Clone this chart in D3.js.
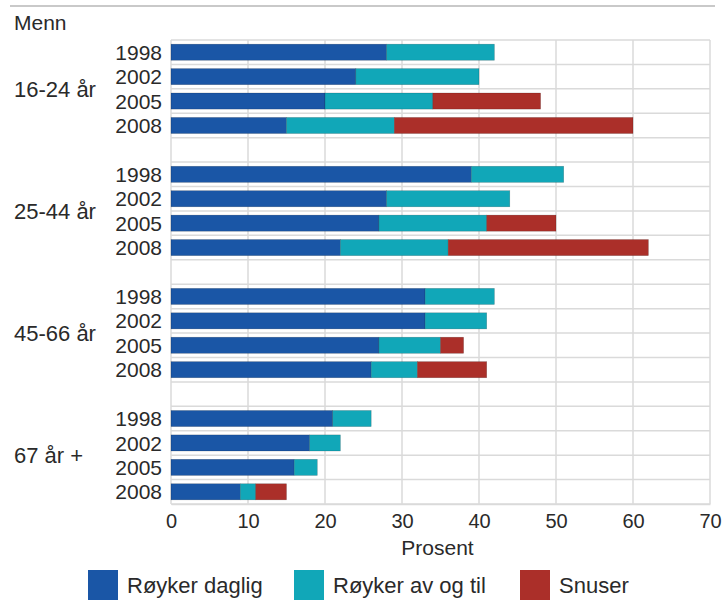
<!DOCTYPE html>
<html>
<head>
<meta charset="utf-8">
<script src="https://cdn.jsdelivr.net/npm/d3@7"></script>
<style>
  html, body { margin: 0; padding: 0; background: #fff; }
  svg { display: block; font-family: "Liberation Sans", Arial, Helvetica, sans-serif; }
</style>
</head>
<body>
<svg id="chart" width="726" height="611"></svg>
<script>
// Age groups and survey years
const groups = ["16-24 år", "25-44 år", "45-66 år", "67 år +"];
const years = ["1998", "2002", "2005", "2008"];

// Share of men (per cent), one array per age group, ordered by year
const daglig = {
  "16-24 år": [28, 24, 20, 15],
  "25-44 år": [39, 28, 27, 22],
  "45-66 år": [33, 33, 27, 26],
  "67 år +":  [21, 18, 16, 9]
};
const avOgTil = {
  "16-24 år": [14, 16, 14, 14],
  "25-44 år": [12, 16, 14, 14],
  "45-66 år": [9, 8, 8, 6],
  "67 år +":  [5, 4, 3, 2]
};
const snuser = {
  "16-24 år": [0, 0, 14, 31],
  "25-44 år": [0, 0, 9, 26],
  "45-66 år": [0, 0, 3, 9],
  "67 år +":  [0, 0, 0, 4]
};

const seriesKeys = ["daglig", "avOgTil", "snuser"];
const seriesLabels = ["Røyker daglig", "Røyker av og til", "Snuser"];
const seriesColors = ["#1a56a6", "#11a7b8", "#ab2f29"];
const xTicks = [0, 10, 20, 30, 40, 50, 60, 70];

const rows = [];
groups.forEach(g => years.forEach((y, i) => {
  rows.push({ group: g, year: y, daglig: daglig[g][i], avOgTil: avOgTil[g][i], snuser: snuser[g][i] });
}));

const svg = d3.select("#chart");
const plot = { left: 171, right: 710, top: 40, bottom: 504 };
const textColor = "#2a2a2a";

const x = d3.scaleLinear().domain([0, 70]).range([plot.left, plot.right]);
// One empty row between age groups: group band = 4 rows, step = 5 rows
const yGroup = d3.scaleBand().domain(groups).range([plot.top, plot.bottom]).paddingInner(0.2).paddingOuter(0);
const yRow = d3.scaleBand().domain(years).range([0, yGroup.bandwidth()]).padding(0);
const barH = yRow.bandwidth() * 0.66;

const grid = "#dadada";

// Top rule
svg.append("line")
  .attr("x1", 10).attr("x2", 715).attr("y1", 6).attr("y2", 6)
  .attr("stroke", "#c9c9c9").attr("stroke-width", 2);

// Horizontal grid lines at every row boundary
const gH = svg.append("g");
groups.forEach(g => {
  const y0 = yGroup(g);
  const bounds = years.map(y => y0 + yRow(y)).concat([y0 + yGroup.bandwidth()]);
  bounds.forEach(b => {
    gH.append("line")
      .attr("x1", plot.left).attr("x2", plot.right)
      .attr("y1", b).attr("y2", b)
      .attr("stroke", grid).attr("stroke-width", 1.5);
  });
});

// Vertical grid lines
svg.append("g").selectAll("line").data(xTicks).join("line")
  .attr("x1", d => x(d)).attr("x2", d => x(d))
  .attr("y1", plot.top).attr("y2", plot.bottom)
  .attr("stroke", grid).attr("stroke-width", 1.5);

// Stacked bars
const stack = d3.stack().keys(seriesKeys);
const stacked = stack(rows);
const color = d3.scaleOrdinal().domain(seriesKeys).range(seriesColors);

svg.append("g").selectAll("g").data(stacked).join("g")
  .attr("fill", d => color(d.key))
  .selectAll("rect").data(d => d.filter(s => s[1] > s[0])).join("rect")
  .attr("x", d => x(d[0]))
  .attr("width", d => x(d[1]) - x(d[0]))
  .attr("y", d => yGroup(d.data.group) + yRow(d.data.year) + (yRow.bandwidth() - barH) / 2)
  .attr("height", barH)
  .attr("stroke", "rgba(0,0,0,0.25)")
  .attr("stroke-width", 0.6);

// Year labels
svg.append("g").selectAll("text").data(rows).join("text")
  .attr("x", 162)
  .attr("y", d => yGroup(d.group) + yRow(d.year) + yRow.bandwidth() / 2)
  .attr("dy", "0.36em")
  .attr("text-anchor", "end")
  .attr("font-size", 21)
  .attr("fill", textColor)
  .text(d => d.year);

// Age group labels
svg.append("g").selectAll("text").data(groups).join("text")
  .attr("x", 14)
  .attr("y", d => yGroup(d) + yGroup.bandwidth() / 2)
  .attr("dy", "0.36em")
  .attr("font-size", 22)
  .attr("fill", textColor)
  .text(d => d);

// Title
svg.append("text")
  .attr("x", 14).attr("y", 30)
  .attr("font-size", 21)
  .attr("fill", textColor)
  .text("Menn");

// X axis
const xAxis = d3.axisBottom(x).tickValues(xTicks).tickSize(0).tickPadding(10).tickFormat(d3.format("d"));
const ax = svg.append("g").attr("transform", `translate(0,${plot.bottom})`).call(xAxis);
ax.select(".domain").attr("stroke", grid).attr("stroke-width", 1.5);
ax.selectAll("text").attr("font-size", 20).attr("fill", textColor).attr("font-family", "Liberation Sans, Arial, sans-serif");

svg.append("text")
  .attr("x", (plot.left + plot.right) / 2 - 3).attr("y", 555)
  .attr("text-anchor", "middle")
  .attr("font-size", 21)
  .attr("fill", textColor)
  .text("Prosent");

// Legend
const legendX = [88, 294, 520];
const lg = svg.append("g").selectAll("g").data(seriesKeys).join("g")
  .attr("transform", (d, i) => `translate(${legendX[i]},570)`);
lg.append("rect").attr("width", 30).attr("height", 30).attr("fill", d => color(d));
lg.append("text")
  .attr("x", 39).attr("y", 15).attr("dy", "0.36em")
  .attr("font-size", 22).attr("fill", textColor)
  .text((d, i) => seriesLabels[i]);
</script>
</body>
</html>
